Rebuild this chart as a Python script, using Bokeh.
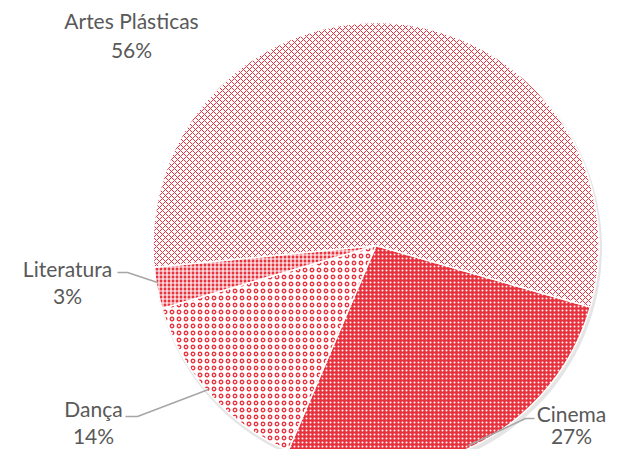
import math
from bokeh.plotting import figure
from bokeh.models import Range1d, ColumnDataSource
from bokeh.core.properties import value
from bokeh.embed import file_html
from bokeh.resources import INLINE

# ---- data ----
categories = ["Cinema", "Dança", "Literatura", "Artes Plásticas"]
shares = [27, 14, 3, 56]
pct_labels = ["27%", "14%", "3%", "56%"]

# ---- styling ----
RED = "#E8333F"
fill_colors = [RED, "white", RED, "white"]
hatch_colors = ["white", RED, "white", RED]
hatch_patterns = [".", "o", "+", "x"]
hatch_scales = [4, 7, 4, 6]
hatch_weights = [1.5, 1.3, 1.2, 1]

W, H = 610, 449
p = figure(width=W, height=H, output_backend="svg", toolbar_location=None,
           x_range=Range1d(0, W), y_range=Range1d(0, H),
           min_border=0)
p.axis.visible = False
p.grid.visible = False
p.outline_line_color = None
p.background_fill_color = "white"

def py(y):  # picture y -> data y
    return H - y

cx, cy, r = 375.5, py(245), 223
start_cw = 106.0  # degrees clockwise from 12 o'clock where first slice starts

total = sum(shares)
starts, ends = [], []
acc = start_cw
for s in shares:
    a0 = acc
    a1 = acc + s / total * 360.0
    starts.append(math.radians(90 - a0))
    ends.append(math.radians(90 - a1))
    acc = a1

# shadow
p.circle(x=[cx + 1.5], y=[cy - 3], radius=r + 1.5, fill_color="#000000",
         fill_alpha=0.10, line_color=None)

src = ColumnDataSource(dict(start=starts, end=ends, fill=fill_colors,
                            hc=hatch_colors, hp=hatch_patterns,
                            hs=hatch_scales, hw=hatch_weights))
p.wedge(x=cx, y=cy, radius=r, start_angle="start", end_angle="end",
        direction="clock", source=src, fill_color="fill",
        hatch_color="hc", hatch_pattern="hp", hatch_scale="hs",
        hatch_weight="hw", line_color="white", line_width=1.5)

# leader lines
LC = "#A6A6A6"
p.line(x=[534, 525, 468], y=[py(418), py(418), py(445)], line_color=LC, line_width=1.5)
p.line(x=[125, 137, 208], y=[py(416), py(416), py(389)], line_color=LC, line_width=1.5)
p.line(x=[117, 127, 157], y=[py(272), py(272), py(282)], line_color=LC, line_width=1.5)

# labels: (x center, name line y, pct line y)
label_pos = [(571, 413, 435), (93, 408, 435), (67, 268, 295), (131, 20, 49)]
for cat, pct, (lx, y1, y2) in zip(categories, pct_labels, label_pos):
    p.text(x=[lx], y=[py(y1)], text=[cat], text_align="center", text_baseline="middle",
           text_font=value("Lato"), text_font_size="21px", text_color="#595959")
    p.text(x=[lx], y=[py(y2)], text=[pct], text_align="center", text_baseline="middle",
           text_font=value("Lato"), text_font_size="21px", text_color="#595959")

open("out.html", "w").write(file_html(p, INLINE))
